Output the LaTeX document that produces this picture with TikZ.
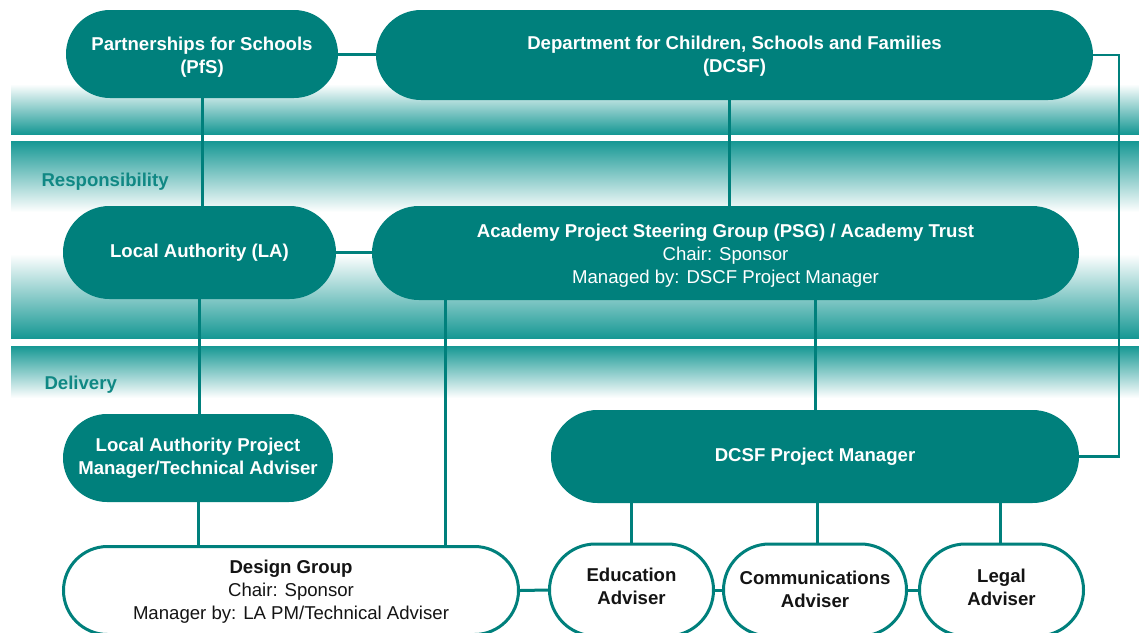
\documentclass[tikz,border=0pt]{standalone}
\usepackage{fontspec}
\setmainfont{Liberation Sans}
\usetikzlibrary{shapes.misc,calc}
\definecolor{nodeteal}{RGB}{0,128,124}
\definecolor{bandteal}{RGB}{22,152,148}
\definecolor{labteal}{RGB}{16,136,132}
\definecolor{darktext}{RGB}{20,20,20}
\begin{document}
\begin{tikzpicture}[x=1pt,y=-1pt,
  every node/.style={font=\fontsize{18.6}{23}\selectfont},
  pill/.style={rounded rectangle, fill=nodeteal, inner sep=0pt},
  wpill/.style={rounded rectangle, draw=nodeteal, line width=3pt, fill=white, inner sep=0pt},
  wtxt/.style={text=white, align=center, inner sep=0pt, font=\fontsize{18.6}{23}\selectfont\bfseries},
  btxt/.style={text=darktext, align=center, inner sep=0pt, font=\fontsize{18.6}{23}\selectfont\bfseries},
  conn/.style={draw=nodeteal, line width=3pt},
  thinconn/.style={draw=nodeteal, line width=2.2pt},
  bandlabel/.style={anchor=west, text=labteal, font=\fontsize{18.6}{22.5}\selectfont\bfseries}
]
\useasboundingbox (0,0) rectangle (1139,632);
\fill[white] (0,0) rectangle (1139,632);
% bands
\shade[top color=white, bottom color=bandteal] (11,84) rectangle (1139,134);
\shade[top color=bandteal, bottom color=white] (11,141) rectangle (1139,212);
\shade[top color=white, bottom color=bandteal] (11,254) rectangle (1139,338);
\shade[top color=bandteal, bottom color=white] (11,346) rectangle (1139,398);

\node[bandlabel] (resp) at (38,182) {Responsibility};
\node[bandlabel] (deliv) at (41,385) {Delivery};

% node shapes
\node[pill, minimum width=272, minimum height=88] (pfs) at (202,54) {};
\node[pill, minimum width=717, minimum height=90] (dcsf) at (734.5,55) {};
\node[pill, minimum width=273, minimum height=93] (la) at (199.5,252.5) {};
\node[pill, minimum width=707, minimum height=94] (psg) at (725.5,253) {};
\node[pill, minimum width=270, minimum height=88] (lapm) at (198,458) {};
\node[pill, minimum width=528, minimum height=93] (dpm) at (815,456.5) {};
\node[wpill, minimum width=455, minimum height=88] (design) at (291,590.5) {};
\node[wpill, minimum width=164, minimum height=92] (edu) at (631.5,590) {};
\node[wpill, minimum width=183, minimum height=92] (comm) at (815,590) {};
\node[wpill, minimum width=164, minimum height=92] (legal) at (1001.5,590) {};

% node texts
\node[wtxt] (pfst) at ($(pfs.center)+(0,3.5)$) {Partnerships for Schools\\(PfS)};
\node[wtxt] (dcsft) at ($(dcsf.center)+(0,1.5)$) {Department for Children, Schools and Families\\(DCSF)};
\node[wtxt] (lat) at ($(la.center)+(0,0.5)$) {Local Authority (LA)};
\node[wtxt] (psgt) at ($(psg.center)+(0,3)$)
  {Academy Project Steering Group (PSG) / Academy Trust\\
   {\mdseries Chair: Sponsor}\\{\mdseries Managed by: DSCF Project Manager}};
\node[wtxt] (lapmt) at ($(lapm.center)+(0,0.5)$) {Local Authority Project\\Manager/Technical Adviser};
\node[wtxt] (dpmt) at ($(dpm.center)+(0,0.5)$) {DCSF Project Manager};
\node[btxt] (designt) at ($(design.center)+(0,1)$)
  {Design Group\\{\mdseries Chair: Sponsor}\\{\mdseries Manager by: LA PM/Technical Adviser}};
\node[btxt] (edut) at ($(edu.center)+(0,-3.5)$) {Education\\Adviser};
\node[btxt] (commt) at ($(comm.center)+(0,-0.5)$) {Communications\\Adviser};
\node[btxt] (legalt) at ($(legal.center)+(0,-2.5)$) {Legal\\Adviser};

% helper coordinates
\coordinate (x729) at (729,0);
\coordinate (x445) at (445,0);
\coordinate (x817) at (817,0);
\coordinate (x1000) at (1000,0);
\coordinate (xr) at (1119,0);

% connectors
\draw[conn] (pfs.east) -- (pfs.east -| dcsf.west);
\draw[conn] (pfs.south) -- (pfs.south |- la.north);
\draw[conn] (la.east) -- (la.east -| psg.west);
\draw[conn] (dcsf.south -| x729) -- (psg.north -| x729);
\draw[thinconn] (dcsf.east) -- (dcsf.east -| xr) |- (dpm.east);
\draw[conn] (la.south) -- (la.south |- lapm.north);
\draw[conn] (lapm.south) -- (lapm.south |- design.north);
\draw[conn] (psg.south -| x445) -- (design.north -| x445);
\draw[conn] (psg.south -| dpm.north) -- (dpm.north);
\draw[conn] (dpm.south -| edu.north) -- (edu.north);
\draw[conn] (dpm.south -| x817) -- (comm.north -| x817);
\draw[conn] (dpm.south -| x1000) -- (legal.north -| x1000);
\draw[conn] (design.east) -- (edu.west);
\draw[conn] (edu.east) -- (comm.west);
\draw[conn] (comm.east) -- (legal.west);
\end{tikzpicture}
\end{document}
